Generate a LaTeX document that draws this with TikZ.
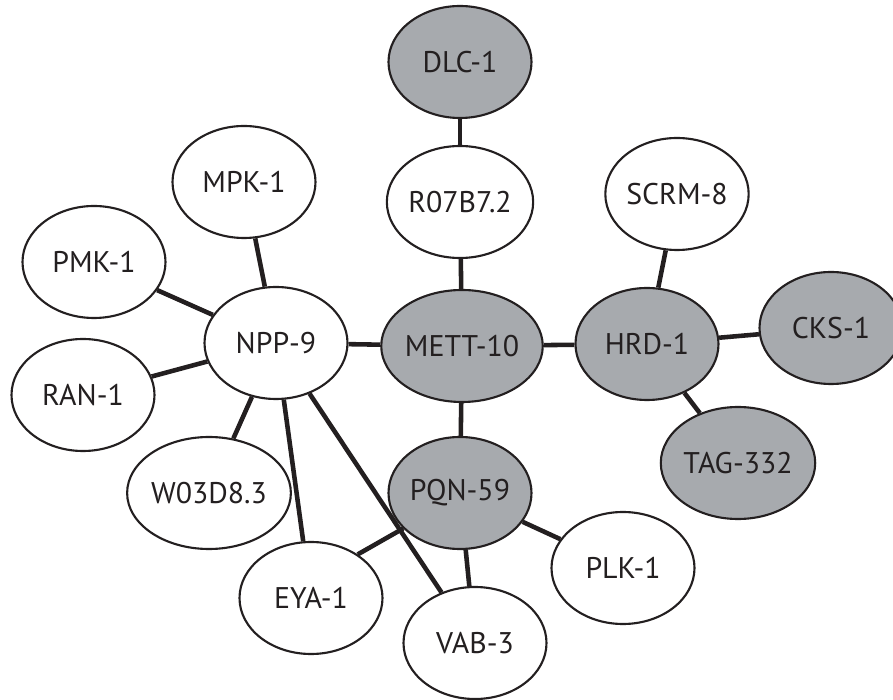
\documentclass[tikz,border=0pt]{standalone}
\usepackage{fontspec}
\setmainfont{PT Sans}
\usetikzlibrary{shapes.geometric}
\definecolor{hubgray}{RGB}{167,170,174}
\definecolor{ink}{RGB}{35,31,32}

\begin{document}
\begin{tikzpicture}[x=0.2mm,y=-0.2mm,
    gene/.style={ellipse,draw=ink,line width=1.2pt,fill=white,inner sep=0pt,
      minimum width=2.86cm,minimum height=2.24cm,text=ink,
      font=\fontsize{17}{20}\selectfont},
    hub/.style={gene,fill=hubgray},
    link/.style={ink,line width=2.6pt}]
  \useasboundingbox (0,0) rectangle (893,700);
  % genes
  \node[hub]  (dlc)   at (460,62)  {DLC-1};
  \node[gene] (r07)   at (460,202) {R07B7.2};
  \node[gene] (mpk)   at (244,182) {MPK-1};
  \node[gene] (pmk)   at (94,262)  {PMK-1};
  \node[gene] (ran)   at (83,395)  {RAN-1};
  \node[gene] (npp)   at (276,343) {NPP-9};
  \node[hub]  (mett)  at (462,346) {METT-10};
  \node[gene] (scrm)  at (677,194) {SCRM-8};
  \node[hub]  (hrd)   at (647,344) {HRD-1};
  \node[hub]  (cks)   at (831,328) {CKS-1};
  \node[hub]  (tag)   at (738,463) {TAG-332};
  \node[gene] (w03)   at (209,493) {W03D8.3};
  \node[hub]  (pqn)   at (460,493) {PQN-59};
  \node[gene] (plk)   at (623,568) {PLK-1};
  \node[gene] (eya)   at (311,598) {EYA-1};
  \node[gene] (vab)   at (475,643) {VAB-3};
  % interactions
  \draw[link] (dlc) -- (r07);
  \draw[link] (r07) -- (mett);
  \draw[link] (mpk) -- (npp);
  \draw[link] (pmk) -- (npp);
  \draw[link] (ran) -- (npp);
  \draw[link] (w03) -- (npp);
  \draw[link] (npp) -- (eya);
  \draw[link] (npp) -- (vab);
  \draw[link] (npp) -- (mett);
  \draw[link] (mett) -- (hrd);
  \draw[link] (mett) -- (pqn);
  \draw[link] (hrd) -- (scrm);
  \draw[link] (hrd) -- (cks);
  \draw[link] (hrd) -- (tag);
  \draw[link] (pqn.212) -- (eya.43);
  \draw[link] (pqn) -- (vab);
  \draw[link] (pqn) -- (plk);
\end{tikzpicture}
\end{document}
